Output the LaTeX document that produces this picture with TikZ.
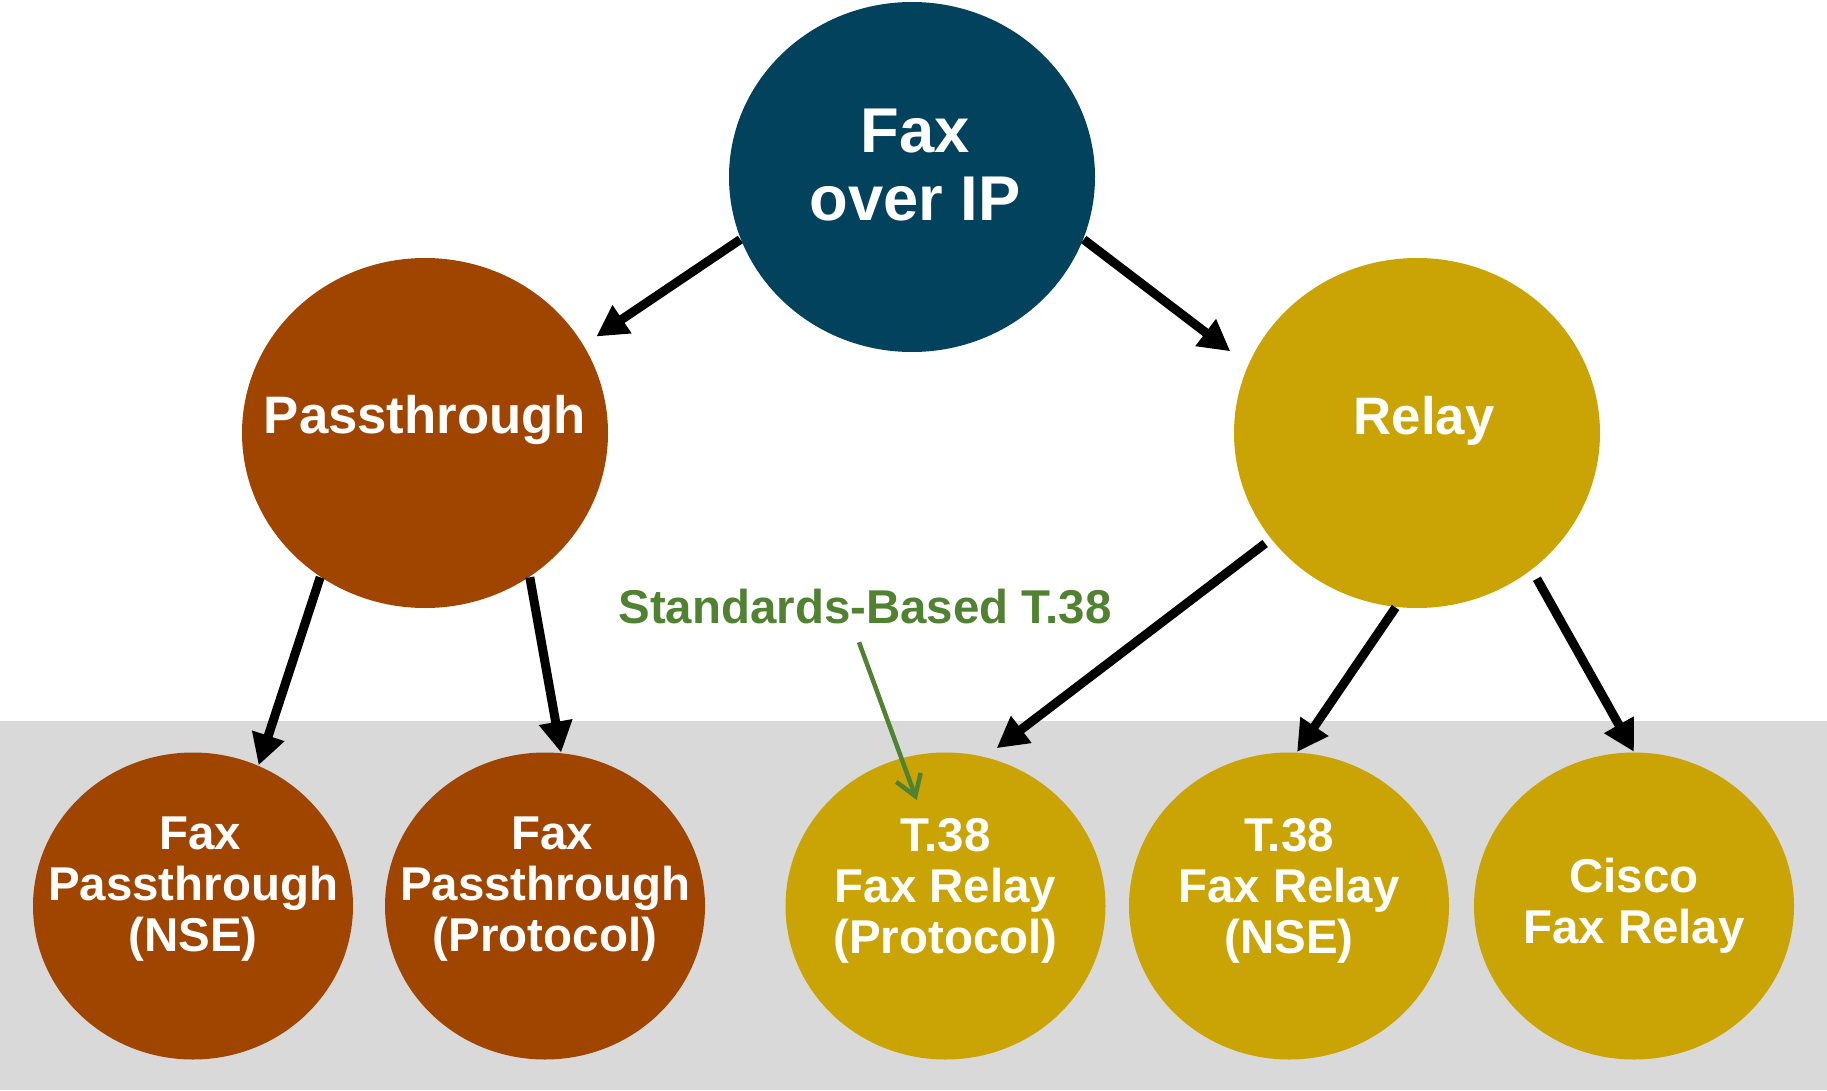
\documentclass[tikz,border=0pt]{standalone}
\usepackage{fontspec}
\setmainfont{Liberation Sans}
\usetikzlibrary{shapes.geometric,arrows.meta}
\definecolor{foipblue}{HTML}{03425C}
\definecolor{ptbrown}{HTML}{A04500}
\definecolor{relaygold}{HTML}{C9A404}
\definecolor{bandgray}{HTML}{D9D9D9}
\definecolor{notegreen}{HTML}{508232}

\begin{document}
\begin{tikzpicture}[
  bigbubble/.style={ellipse, inner sep=0pt, minimum width=3.66cm, minimum height=3.50cm},
  bubble/.style={ellipse, inner sep=0pt, minimum width=3.20cm, minimum height=3.07cm},
  bigtxt/.style={text=white, inner sep=0pt, align=center, font=\bfseries\fontsize{18}{19.2}\selectfont},
  midtxt/.style={text=white, inner sep=0pt, align=center, font=\bfseries\fontsize{15}{16}\selectfont},
  smalltxt/.style={text=white, inner sep=0pt, align=center, font=\bfseries\fontsize{13.5}{14.5}\selectfont},
  link/.style={line width=0.9mm, draw=black, -{Triangle[length=3.1mm,width=3.2mm]}},
  note/.style={line width=0.45mm, draw=notegreen, -{Straight Barb[length=2mm,width=2.6mm]}}
]
  \useasboundingbox (0,0) rectangle (18.27,10.90);

  % Franja gris
  \fill[bandgray] (0,0) rectangle (18.27,3.69);

  % Burbujas
  \node[bigbubble, fill=foipblue] (fax) at (9.12,9.13) {};
  \node[bigbubble, fill=ptbrown] (pass) at (4.25,6.57) {};
  \node[bigbubble, fill=relaygold] (relay) at (14.17,6.57) {};
  \node[bubble, fill=ptbrown] (ptnse) at (1.93,1.84) {};
  \node[bubble, fill=ptbrown] (ptproto) at (5.45,1.84) {};
  \node[bubble, fill=relaygold] (t38proto) at (9.455,1.84) {};
  \node[bubble, fill=relaygold] (t38nse) at (12.89,1.84) {};
  \node[bubble, fill=relaygold] (cisco) at (16.34,1.84) {};

  % Textos
  \node[bigtxt] (fax-t) at ([xshift=0.3mm, yshift=1.2mm]fax.center) {Fax\\over IP};
  \node[midtxt] (pass-t) at ([yshift=1.3mm]pass.center) {Passthrough};
  \node[midtxt] (relay-t) at ([xshift=0.7mm, yshift=1.2mm]relay.center) {Relay};
  \node[smalltxt] (ptnse-t) at ([yshift=1.7mm]ptnse.center) {\hspace*{1.4mm}Fax\\Passthrough\\(NSE)};
  \node[smalltxt] (ptproto-t) at ([yshift=1.7mm]ptproto.center) {\hspace*{1.4mm}Fax\\Passthrough\\(Protocol)};
  \node[smalltxt] (t38proto-t) at ([yshift=1.5mm]t38proto.center) {T.38\\Fax Relay\\(Protocol)};
  \node[smalltxt] (t38nse-t) at ([yshift=1.5mm]t38nse.center) {T.38\\Fax Relay\\(NSE)};
  \node[smalltxt] (cisco-t) at (cisco.center) {Cisco\\Fax Relay};

  \node[anchor=base, inner sep=0pt, text=notegreen, font=\bfseries\fontsize{13.5}{16}\selectfont] (std) at (8.65,4.67) {Standards-Based T.38};
  \coordinate (notetip) at (9.167,2.90);

  % Flechas
  \draw[link, shorten >=1.5mm] (fax.200) -- (pass.29);
  \draw[link, shorten >=2.2mm] (fax.340) -- (relay.158);
  \draw[link] (pass.234) -- (ptnse.65);
  \draw[link] (pass.306) -- (ptproto.84);
  \draw[link, shorten <=0.7mm, shorten >=1.4mm] (relay.216) -- (t38proto.75);
  \draw[link] (relay.263) -- (t38nse.87);
  \draw[link, shorten <=1mm] (relay.310) -- (cisco.90);
  \draw[note] ([shift={(-0.06,-0.18)}]std.south) -- (notetip);
\end{tikzpicture}
\end{document}
